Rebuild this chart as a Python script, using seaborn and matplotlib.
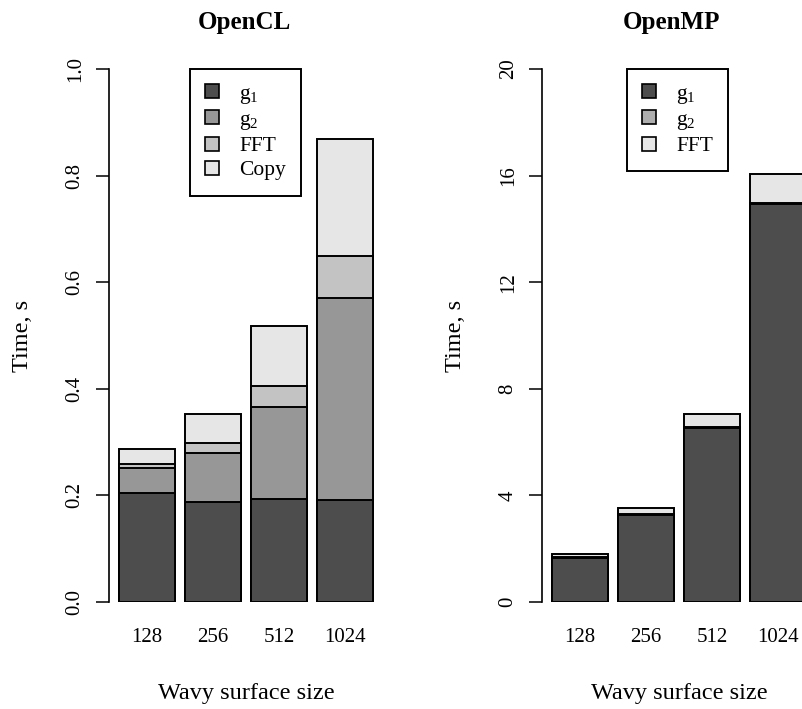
import numpy as np
import pandas as pd
import matplotlib
matplotlib.use("Agg")
import matplotlib.pyplot as plt
from matplotlib.patches import Patch
import seaborn as sns

# === Data ===
sizes = ["128", "256", "512", "1024"]

ocl_g1 = [0.204, 0.187, 0.193, 0.191]
ocl_g2 = [0.047, 0.092, 0.173, 0.379]
ocl_fft = [0.008, 0.019, 0.039, 0.080]
ocl_copy = [0.028, 0.055, 0.113, 0.218]

omp_g1 = [1.66, 3.27, 6.54, 14.93]
omp_g2 = [0.02, 0.03, 0.04, 0.05]
omp_fft = [0.12, 0.24, 0.46, 1.07]

ocl_colors = ["#4D4D4D", "#979797", "#C3C3C3", "#E6E6E6"]
omp_colors = ["#4D4D4D", "#AEAEAE", "#E6E6E6"]

sns.set_style("white")
plt.rcParams["font.family"] = ["Liberation Serif", "DejaVu Serif"]
plt.rcParams["mathtext.fontset"] = "custom"
plt.rcParams["mathtext.rm"] = "Liberation Serif"
plt.rcParams["mathtext.it"] = "Liberation Serif"
for k in ["text.color", "axes.labelcolor", "xtick.color", "ytick.color"]:
    plt.rcParams[k] = "black"

fig = plt.figure(figsize=(8.02, 7.09), dpi=100)
W, H = 802, 709


def stacked(ax, parts, labels, colors, ymax, yticks, ticklabels, title, leg_x):
    df = pd.DataFrame({lab: p for lab, p in zip(labels, parts)}, index=sizes)
    cum = df.cumsum(axis=1)
    # draw tallest layer first so lower layers sit on top
    for lab, col in reversed(list(zip(labels, colors))):
        sns.barplot(x=sizes, y=cum[lab].values, color=col, saturation=1,
                    edgecolor="black", linewidth=1.4, width=0.85, ax=ax)
    ax.set_xlim(-0.577, 3.6)
    ax.set_ylim(0, ymax)
    ax.set_yticks(yticks)
    ax.set_yticklabels(ticklabels, rotation=90, va="center", fontsize=15)
    for s in ["top", "right", "bottom"]:
        ax.spines[s].set_visible(False)
    ax.spines["left"].set_linewidth(1.2)
    ax.spines["left"].set_color("black")
    ax.tick_params(axis="y", direction="out", length=9.5, width=1.1,
                   pad=8, left=True, colors="black")
    ax.tick_params(axis="x", length=0, pad=19, labelsize=15)
    ax.set_xlabel("Wavy surface size", fontsize=17.5)
    ax.xaxis.set_label_coords(0.497, -0.171)
    ax.xaxis.label.set_va("center")
    ax.set_ylabel("Time, s", fontsize=17.5)
    ax.yaxis.set_label_coords(-0.315, 0.5)
    ax.yaxis.label.set_va("center")
    ax.set_title(title, fontweight="bold", fontsize=18, pad=29)
    handles = [Patch(facecolor=c, edgecolor="black", linewidth=1.2) for c in colors]
    leg = ax.legend(handles, labels, loc="upper center", bbox_to_anchor=(leg_x, 1.0),
                    borderaxespad=0, fontsize=15.5, handlelength=0.62, handleheight=0.62,
                    handletextpad=0.95, labelspacing=0.22, borderpad=0.7,
                    fancybox=False, framealpha=1)
    leg.get_frame().set_edgecolor("black")
    leg.get_frame().set_linewidth(1.4)


ax1 = fig.add_axes([109 / W, 107 / H, 276 / W, 533 / H])
stacked(ax1, [ocl_g1, ocl_g2, ocl_fft, ocl_copy],
        ["g$_1$", "g$_2$", "FFT", "Copy"], ocl_colors,
        1.0, [0, 0.2, 0.4, 0.6, 0.8, 1.0],
        ["0.0", "0.2", "0.4", "0.6", "0.8", "1.0"], "OpenCL", 0.495)
ax1.title.set_x(0.49)

ax2 = fig.add_axes([542 / W, 107 / H, 276 / W, 533 / H])
stacked(ax2, [omp_g1, omp_g2, omp_fft],
        ["g$_1$", "g$_2$", "FFT"], omp_colors,
        20, [0, 4, 8, 12, 16, 20],
        ["0", "4", "8", "12", "16", "20"], "OpenMP", 0.491)
ax2.title.set_x(0.47)

fig.savefig("out.png", dpi=100)
